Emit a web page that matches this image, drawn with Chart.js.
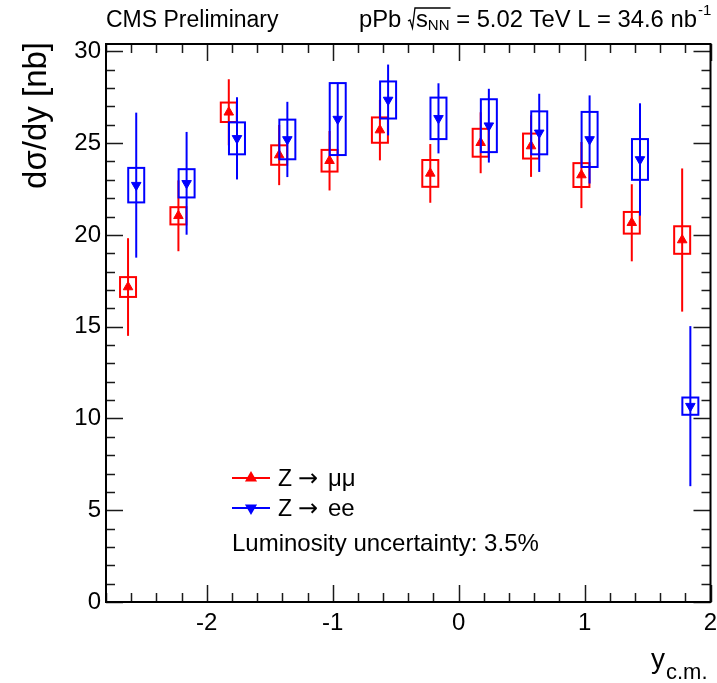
<!DOCTYPE html>
<html>
<head>
<meta charset="utf-8">
<script src="https://cdn.jsdelivr.net/npm/chart.js@4/dist/chart.umd.min.js"></script>
<style>
  html, body { margin: 0; padding: 0; background: #ffffff; }
  #wrap { width: 717px; height: 683px; }
</style>
</head>
<body>
<div id="wrap"><canvas id="c" width="717" height="683"></canvas></div>
<script>
// Rapidity bin centres (centre-of-mass frame)
const binCenters = [-2.6, -2.2, -1.8, -1.4, -1.0, -0.6, -0.2, 0.2, 0.6, 1.0, 1.4, 1.8];

// Z -> mu mu : dsigma/dy [nb], statistical and systematic uncertainties
const muValues = [17.16, 21.04, 26.68, 24.35, 24.04, 25.71, 23.35, 25.02, 24.84, 23.26, 20.66, 19.72];
const muStat   = [2.66, 1.93, 1.80, 1.64, 1.62, 1.65, 1.60, 1.66, 1.68, 1.80, 2.10, 3.90];
const muSyst   = [0.54, 0.47, 0.53, 0.53, 0.59, 0.69, 0.73, 0.76, 0.68, 0.65, 0.59, 0.75];

// Z -> e e : dsigma/dy [nb], statistical and systematic uncertainties
const eeValues = [22.71, 22.81, 25.26, 25.20, 26.31, 27.35, 26.35, 25.95, 25.56, 25.20, 24.11, 10.67];
const eeStat   = [3.95, 2.80, 2.24, 2.05, 1.98, 1.93, 1.91, 2.01, 2.13, 2.40, 3.06, 4.36];
const eeSyst   = [0.94, 0.77, 0.87, 1.08, 1.96, 1.01, 1.13, 1.44, 1.17, 1.50, 1.11, 0.47];

// Labelled ticks
const xTickLabels = [-2, -1, 0, 1, 2];
const yTickLabels = [0, 5, 10, 15, 20, 25, 30];

// Small horizontal displacement of each channel inside its bin, for readability
const muShift = -0.025;
const eeShift = 0.04;

const FONT = '"Liberation Sans", Arial, Helvetica, sans-serif';
const RED = '#ff0000';
const BLUE = '#0000ff';

function points(values, shift) {
  return binCenters.map((c, i) => ({ x: c + shift, y: values[i] }));
}

// Statistical error bars and systematic boxes, drawn under each dataset's markers
const uncertaintyPlugin = {
  id: 'uncertainties',
  beforeDatasetDraw(chart, args) {
    const ds = chart.data.datasets[args.index];
    const xs = chart.scales.x, ys = chart.scales.y;
    const ctx = chart.ctx;
    ctx.save();
    ctx.strokeStyle = ds.borderColor;
    ctx.lineWidth = 2;
    ds.data.forEach((p, i) => {
      const px = xs.getPixelForValue(p.x);
      const bt = ys.getPixelForValue(p.y + ds.syst[i]);
      const bb = ys.getPixelForValue(p.y - ds.syst[i]);
      ctx.strokeRect(px - 8, bt, 16, bb - bt);
      ctx.beginPath();
      ctx.moveTo(px, ys.getPixelForValue(p.y + ds.stat[i]));
      ctx.lineTo(px, ys.getPixelForValue(p.y - ds.stat[i]));
      ctx.stroke();
    });
    ctx.restore();
  }
};

// Frame with inward ticks on all four sides
const framePlugin = {
  id: 'frame',
  afterDraw(chart) {
    const { ctx, chartArea: a } = chart;
    const xs = chart.scales.x, ys = chart.scales.y;
    ctx.save();
    ctx.strokeStyle = '#1a1a1a';
    ctx.lineWidth = 1.5;
    const near = (v, s) => Math.abs(v / s - Math.round(v / s)) < 1e-6;
    ctx.beginPath();
    xs.ticks.forEach(t => {
      if (!near(t.value, 0.2)) return;
      const len = near(t.value, 1) ? 17 : 9;
      const px = Math.round(xs.getPixelForValue(t.value)) + 0.5;
      ctx.moveTo(px, a.bottom); ctx.lineTo(px, a.bottom - len);
      ctx.moveTo(px, a.top); ctx.lineTo(px, a.top + len);
    });
    ys.ticks.forEach(t => {
      if (!near(t.value, 1)) return;
      const len = near(t.value, 5) ? 17 : 9;
      const py = Math.round(ys.getPixelForValue(t.value)) + 0.5;
      ctx.moveTo(a.left, py); ctx.lineTo(a.left + len, py);
      ctx.moveTo(a.right, py); ctx.lineTo(a.right - len, py);
    });
    ctx.stroke();
    ctx.lineWidth = 2;
    ctx.strokeStyle = '#000000';
    ctx.strokeRect(a.left, a.top, a.right - a.left, a.bottom - a.top);
    ctx.restore();
  }
};

// Header, axis titles and legend
const textPlugin = {
  id: 'texts',
  afterDraw(chart) {
    const ctx = chart.ctx;
    ctx.save();
    ctx.fillStyle = '#000000';
    ctx.textBaseline = 'alphabetic';
    ctx.textAlign = 'left';

    // header
    const big = '23.8px ' + FONT, small = '15px ' + FONT;
    const base = 27;
    ctx.font = '23px ' + FONT;
    ctx.fillText('CMS Preliminary', 106, base);

    let x = 359;
    ctx.font = big;
    ctx.fillText('pPb', x, base);
    x += ctx.measureText('pPb ').width;
    const sW = ctx.measureText('s').width;
    ctx.font = small;
    const nnW = ctx.measureText('NN').width;
    // radical sign with its overline
    ctx.strokeStyle = '#000000';
    ctx.lineWidth = 1.3;
    ctx.beginPath();
    ctx.moveTo(x, base - 6);
    ctx.lineTo(x + 2, base - 7);
    ctx.lineTo(x + 4.5, base + 1);
    ctx.lineTo(x + 7, base - 19);
    ctx.lineTo(x + 8 + sW + nnW + 1, base - 19);
    ctx.stroke();
    x += 8;
    ctx.font = big;
    ctx.fillText('s', x, base);
    x += sW;
    ctx.font = small;
    ctx.fillText('NN', x, base + 3);
    x += nnW;
    ctx.font = big;
    const rest = ' = 5.02 TeV L = 34.6 nb';
    ctx.fillText(rest, x, base);
    x += ctx.measureText(rest).width;
    ctx.font = small;
    ctx.fillText('-1', x + 1, base - 12);

    // y axis title
    ctx.save();
    ctx.translate(46, 42);
    ctx.rotate(-Math.PI / 2);
    ctx.font = '33px ' + FONT;
    ctx.textAlign = 'right';
    ctx.fillText('d\u03c3/dy [nb]', 0, 0);
    ctx.restore();

    // x axis title
    ctx.textAlign = 'left';
    ctx.font = '28px ' + FONT;
    ctx.fillText('y', 651, 668);
    const yW = ctx.measureText('y').width;
    ctx.font = '22px ' + FONT;
    ctx.fillText('c.m.', 651 + yW + 1, 679);

    // legend
    const entries = [
      { lead: 'Z', tail: '\u03bc\u03bc', color: RED, rot: 0, y: 478 },
      { lead: 'Z', tail: 'ee', color: BLUE, rot: 180, y: 508 }
    ];
    entries.forEach(e => {
      ctx.strokeStyle = e.color;
      ctx.lineWidth = 2;
      ctx.beginPath();
      ctx.moveTo(232, e.y); ctx.lineTo(270, e.y);
      ctx.stroke();
      ctx.fillStyle = e.color;
      Chart.helpers.drawPoint(ctx, { pointStyle: 'triangle', radius: 5, rotation: e.rot, borderWidth: 1 }, 251, e.y);
      ctx.fillStyle = '#000000';
      ctx.font = '23px ' + FONT;
      ctx.fillText(e.lead, 278, e.y + 8);
      ctx.font = '24px "DejaVu Sans", sans-serif';
      ctx.fillText('\u2192', 298, e.y + 8);
      ctx.font = '24px ' + FONT;
      ctx.fillText(e.tail, 328, e.y + 8);
    });
    ctx.font = '24px ' + FONT;
    ctx.fillText('Luminosity uncertainty: 3.5%', 232, 551);
    ctx.restore();
  }
};

const chart = new Chart(document.getElementById('c'), {
  type: 'scatter',
  data: {
    datasets: [
      {
        label: 'Z \u2192 \u03bc\u03bc',
        data: points(muValues, muShift),
        stat: muStat,
        syst: muSyst,
        borderColor: RED,
        backgroundColor: RED,
        pointStyle: 'triangle',
        pointRadius: 5.5,
        pointBorderWidth: 1,
        pointRotation: 0,
        order: 1
      },
      {
        label: 'Z \u2192 ee',
        data: points(eeValues, eeShift),
        stat: eeStat,
        syst: eeSyst,
        borderColor: BLUE,
        backgroundColor: BLUE,
        pointStyle: 'triangle',
        pointRadius: 5.5,
        pointBorderWidth: 1,
        pointRotation: 180,
        order: 0
      }
    ]
  },
  options: {
    responsive: false,
    animation: false,
    devicePixelRatio: 1,
    layout: { padding: { top: 44, right: 6, left: 0, bottom: 0 } },
    plugins: {
      legend: { display: false },
      tooltip: { enabled: false }
    },
    scales: {
      x: {
        type: 'linear',
        min: -2.8,
        max: 2.0,
        grid: { display: false, drawTicks: false },
        border: { display: false },
        ticks: {
          stepSize: 0.2,
          includeBounds: false,
          autoSkip: false,
          maxRotation: 0,
          minRotation: 0,
          padding: 7,
          color: '#000000',
          font: { family: FONT, size: 24 },
          callback: v => {
            const hit = xTickLabels.find(t => Math.abs(t - v) < 1e-6);
            return hit === undefined ? '' : String(hit);
          }
        },
        afterFit: s => { s.height = 81; s.paddingLeft = 0; s.paddingRight = 0; }
      },
      y: {
        type: 'linear',
        min: 0,
        max: 30.4,
        grid: { display: false, drawTicks: false },
        border: { display: false },
        ticks: {
          stepSize: 1,
          includeBounds: false,
          autoSkip: false,
          padding: 5,
          color: '#000000',
          font: { family: FONT, size: 24 },
          callback: v => {
            const hit = yTickLabels.find(t => Math.abs(t - v) < 1e-6);
            return hit === undefined ? '' : String(hit);
          }
        },
        afterFit: s => { s.width = 106; s.paddingTop = 0; s.paddingBottom = 0; }
      }
    }
  },
  plugins: [uncertaintyPlugin, framePlugin, textPlugin]
});
</script>
</body>
</html>
